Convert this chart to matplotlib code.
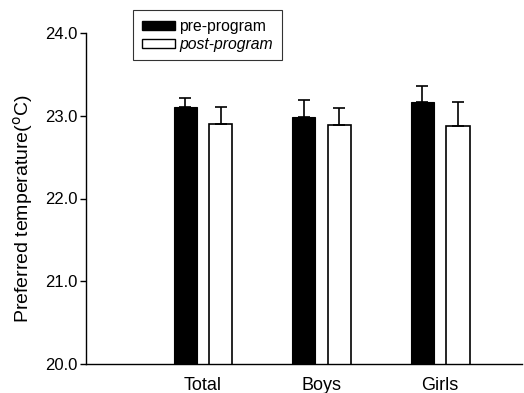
import matplotlib
matplotlib.use("Agg")
import matplotlib.pyplot as plt
import numpy as np
from matplotlib.patches import Patch

plt.rcParams['font.family'] = ['Liberation Sans', 'DejaVu Sans']

categories = ["Total", "Boys", "Girls"]
pre_values = [23.11, 22.99, 23.17]
pre_err = [0.10, 0.20, 0.19]
post_values = [22.90, 22.89, 22.88]
post_err = [0.20, 0.20, 0.29]
yticks = [20.0, 21.0, 22.0, 23.0, 24.0]

fig = plt.figure(figsize=(5.24, 3.93), dpi=100)
ax = fig.add_axes([86/524, 29/393, 436/524, 331/393])

x = np.arange(len(categories))
w = 0.195
off = 0.15
ax.bar(x - off, pre_values, w, color='black', edgecolor='black', linewidth=0.8,
       yerr=[np.zeros(3), pre_err], capsize=4, error_kw=dict(ecolor='black', elinewidth=1.2, capthick=1.2))
ax.bar(x + off, post_values, w, color='white', edgecolor='black', linewidth=1.2,
       yerr=[np.zeros(3), post_err], capsize=4, error_kw=dict(ecolor='black', elinewidth=1.2, capthick=1.2))

ax.set_ylim(20.0, 24.0)
ax.set_xlim(-0.987, 2.69)
ax.set_yticks(yticks)
ax.set_yticklabels([f"{t:.1f}" for t in yticks], fontsize=12)
ax.set_xticks(x)
ax.set_xticklabels(categories, fontsize=13)
ax.tick_params(axis='x', length=0, pad=9)
ax.tick_params(axis='y', direction='out', length=4, width=1, pad=2)
ax.spines['top'].set_visible(False)
ax.spines['right'].set_visible(False)
ax.spines['left'].set_linewidth(1)
ax.spines['bottom'].set_linewidth(1)
ax.set_ylabel("Preferred temperature($^{\\rm o}$C)", fontsize=14)
ax.yaxis.set_label_coords(-0.117, 0.47)

handles = [Patch(facecolor='black', edgecolor='black'), Patch(facecolor='white', edgecolor='black')]
leg = fig.legend(handles, ["pre-program", "post-program"], loc='upper left',
                 bbox_to_anchor=(133/524, 1 - 10/393), fontsize=11.3, frameon=True,
                 fancybox=False, edgecolor='black', handlelength=2.1, handleheight=0.5,
                 borderpad=0.55, labelspacing=0.2, handletextpad=0.3, borderaxespad=0)
leg.get_frame().set_linewidth(0.8)
leg.get_texts()[1].set_style('italic')

fig.savefig("out.png", dpi=100)
